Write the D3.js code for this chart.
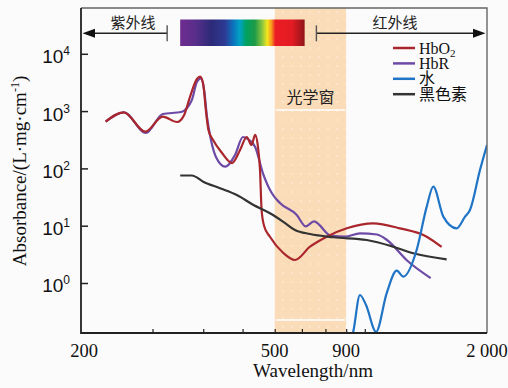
<!DOCTYPE html>
<html>
<head>
<meta charset="utf-8">
<script src="https://cdn.jsdelivr.net/npm/d3@7"></script>
<style>
  body { margin: 0; background: #fbfbfb; }
  svg { display: block; font-family: "Liberation Serif", "Times New Roman", "Noto Sans CJK SC", serif; }
</style>
</head>
<body>
<div id="chart-area"></div>
<script>
// wavelength (nm) / absorbance
var hbo2Wavelength = [230, 255, 288, 318, 345, 359, 371, 386, 393, 400, 406, 412, 423, 445, 471, 493, 512, 526, 537, 546, 552, 557, 565, 584, 630, 673, 733, 806, 903, 1049, 1221, 1421, 1546];
var hbo2Absorbance = [653, 953, 437, 798, 645, 855, 1762, 3631, 3985, 2972, 1045, 468, 313, 186, 124, 209, 353, 256, 383, 227, 94, 18.8, 9.9, 6.4, 3.34, 2.52, 4.3, 6.43, 9.0, 11.0, 9.0, 6.43, 4.25];

var hbrWavelength = [230, 255, 289, 318, 353, 375, 386, 395, 402, 409, 418, 430, 453, 479, 501, 519, 537, 561, 590, 618, 680, 715, 750, 824, 894, 973, 1072, 1134, 1273, 1453];
var hbrAbsorbance = [653, 953, 415, 890, 965, 1563, 3221, 3706, 2335, 758, 313, 158, 107, 171, 353, 313, 236, 83, 37.2, 24.9, 15.4, 9.76, 11.9, 6.69, 6.43, 7.37, 7.02, 5.63, 2.45, 1.22];

var waterWavelength = [922, 935, 973, 1007, 1066, 1132, 1199, 1244, 1342, 1421, 1475, 1561, 1683, 1766, 1816, 1922, 2000];
var waterAbsorbance = [0.10, 0.134, 0.618, 0.413, 0.141, 0.661, 1.64, 1.29, 3.77, 21.5, 47.9, 14.4, 9.0, 14.4, 18.8, 93.8, 256];

var melaninWavelength = [351, 375, 400, 440, 484, 532, 584, 630, 673, 733, 837, 1011, 1175, 1317, 1591];
var melaninAbsorbance = [75.2, 75.2, 58.6, 45, 34.3, 23.0, 16.5, 11.7, 8.41, 7.16, 6.28, 5.63, 4.30, 3.30, 2.59];

var seriesNames = ["HbO2", "HbR", "水", "黑色素"];
var seriesColors = ["#a9262c", "#6c4aa5", "#1f74c6", "#333333"];

var yTickValues = [1, 10, 100, 1000, 10000];
var xMinorTicks = [300, 400, 500, 600, 700, 800, 900, 1000];
var xLabelValues = [200, 600, 900, 2000];
var xLabelTexts = ["200", "500", "900", "2 000"];

var windowRange = [600, 900];
var uvEnd = 326, irStart = 760, spectrumRange = [351, 711];

var margin = {top: 8, right: 21, bottom: 55, left: 81},
    width = 508 - margin.left - margin.right,
    height = 388 - margin.top - margin.bottom;

var svg = d3.select("#chart-area").append("svg")
    .attr("width", 508)
    .attr("height", 388);

var defs = svg.append("defs");
defs.append("clipPath").attr("id", "plot-clip")
    .append("rect").attr("width", width).attr("height", height);
var pat = defs.append("pattern").attr("id", "dots")
    .attr("width", 9).attr("height", 9).attr("patternUnits", "userSpaceOnUse");
pat.append("rect").attr("width", 9).attr("height", 9).attr("fill", "#fbdcb9");
pat.append("circle").attr("cx", 4).attr("cy", 4).attr("r", 0.8).attr("fill", "#fff").attr("opacity", 0.6);

var grad = defs.append("linearGradient").attr("id", "spectrum");
[[0, "#6e2c8f"], [0.12, "#5a2e8c"], [0.25, "#2c2a78"], [0.36, "#2d3a94"], [0.43, "#0a76bf"],
 [0.48, "#00a3c4"], [0.53, "#00a161"], [0.6, "#1e9a47"], [0.66, "#8dc63f"], [0.7, "#f3e61c"],
 [0.735, "#f7941d"], [0.765, "#ec1c24"], [0.9, "#e31b23"], [1, "#8e1518"]]
    .forEach(function (s) {
        grad.append("stop").attr("offset", s[0]).attr("stop-color", s[1]);
    });

var g = svg.append("g")
    .attr("transform", "translate(" + margin.left + "," + margin.top + ")");

var x = d3.scaleLog().domain([200, 2000]).range([0, width]);
var y = d3.scaleLog().domain([0.1341, 62950]).range([height, 0]);

// optical window band
g.append("rect")
    .attr("x", x(windowRange[0]))
    .attr("y", 0)
    .attr("width", x(windowRange[1]) - x(windowRange[0]))
    .attr("height", height)
    .attr("fill", "url(#dots)");
[102, 312].forEach(function (yy) {
    g.append("line")
        .attr("x1", x(windowRange[0]) + 1).attr("x2", x(windowRange[1]) - 1)
        .attr("y1", yy).attr("y2", yy)
        .attr("stroke", "#fff").attr("stroke-width", 1.5);
});
g.append("text")
    .attr("x", (x(windowRange[0]) + x(windowRange[1])) / 2)
    .attr("y", 95)
    .attr("text-anchor", "middle")
    .attr("font-size", 16)
    .attr("fill", "#222")
    .text("光学窗");

// spectrum bar and UV / IR arrows
g.append("rect")
    .attr("x", x(spectrumRange[0]))
    .attr("y", 11.5)
    .attr("width", x(spectrumRange[1]) - x(spectrumRange[0]))
    .attr("height", 26.5)
    .attr("fill", "url(#spectrum)");

var arrowY = 25.3;
g.append("line").attr("x1", 8).attr("x2", x(uvEnd)).attr("y1", arrowY).attr("y2", arrowY)
    .attr("stroke", "#222").attr("stroke-width", 1.4);
g.append("path").attr("d", "M1.5," + arrowY + "L14," + (arrowY - 4.5) + "L14," + (arrowY + 4.5) + "Z").attr("fill", "#111");
g.append("line").attr("x1", x(uvEnd)).attr("x2", x(uvEnd)).attr("y1", arrowY - 8).attr("y2", arrowY + 8)
    .attr("stroke", "#555").attr("stroke-width", 1.4);
g.append("line").attr("x1", x(irStart)).attr("x2", width - 8).attr("y1", arrowY).attr("y2", arrowY)
    .attr("stroke", "#222").attr("stroke-width", 1.4);
g.append("path").attr("d", "M" + (width - 1.5) + "," + arrowY + "L" + (width - 14) + "," + (arrowY - 4.5) + "L" + (width - 14) + "," + (arrowY + 4.5) + "Z").attr("fill", "#111");
g.append("line").attr("x1", x(irStart)).attr("x2", x(irStart)).attr("y1", arrowY - 8).attr("y2", arrowY + 8)
    .attr("stroke", "#555").attr("stroke-width", 1.4);
g.append("text").attr("x", 52).attr("y", 19.5).attr("text-anchor", "middle")
    .attr("font-size", 15).attr("fill", "#222").text("紫外线");
g.append("text").attr("x", 314).attr("y", 20).attr("text-anchor", "middle")
    .attr("font-size", 15).attr("fill", "#222").text("红外线");

// curves
var line = d3.line()
    .x(function (d) { return x(d[0]); })
    .y(function (d) { return y(d[1]); })
    .curve(d3.curveMonotoneX);
var series = [
    d3.zip(hbo2Wavelength, hbo2Absorbance),
    d3.zip(hbrWavelength, hbrAbsorbance),
    d3.zip(waterWavelength, waterAbsorbance),
    d3.zip(melaninWavelength, melaninAbsorbance)
];
var drawOrder = [1, 0, 3, 2];
var curves = g.append("g").attr("clip-path", "url(#plot-clip)");
drawOrder.forEach(function (i) {
    curves.append("path")
        .datum(series[i])
        .attr("d", line)
        .attr("fill", "none")
        .attr("stroke", seriesColors[i])
        .attr("stroke-width", 2.2)
        .attr("stroke-linejoin", "round");
});

// axes
var yAxis = g.append("g")
    .call(d3.axisLeft(y).tickValues(yTickValues).tickSize(-7).tickSizeOuter(0).tickFormat(""));
yAxis.selectAll(".tick line").attr("stroke", "#222").attr("stroke-width", 1.5);
yAxis.selectAll(".tick").append("text")
    .attr("x", -11)
    .attr("y", 9)
    .attr("text-anchor", "end")
    .attr("fill", "#111")
    .attr("font-size", 19)
    .each(function (d) {
        var t = d3.select(this);
        t.append("tspan").text("10");
        t.append("tspan").attr("dy", -8).attr("font-size", 12).text(Math.round(Math.log10(d)));
    });

var xAxis = g.append("g")
    .attr("transform", "translate(0," + height + ")")
    .call(d3.axisBottom(x).tickValues(xMinorTicks).tickSize(-4).tickSizeOuter(0).tickFormat(""));
xAxis.selectAll(".tick line").attr("stroke", "#222").attr("stroke-width", 1.2);
xLabelValues.forEach(function (v, i) {
    g.append("text")
        .attr("x", x(v) + (i === 0 ? 3 : 0))
        .attr("y", height + 24)
        .attr("text-anchor", "middle")
        .attr("font-size", 18.5)
        .attr("fill", "#111")
        .text(xLabelTexts[i]);
});
svg.selectAll(".domain").remove();

// frame
g.append("path")
    .attr("d", "M0,0H" + width + "V" + height)
    .attr("fill", "none").attr("stroke", "#666").attr("stroke-width", 1.4);
g.append("path")
    .attr("d", "M0,0V" + height + "H" + width)
    .attr("fill", "none").attr("stroke", "#222").attr("stroke-width", 1.8);

// legend
var legend = g.append("g").attr("transform", "translate(312,40)");
seriesNames.forEach(function (name, i) {
    var row = legend.append("g").attr("transform", "translate(0," + (i * 15.4) + ")");
    row.append("line").attr("x1", 0).attr("x2", 22).attr("y1", 0).attr("y2", 0)
        .attr("stroke", seriesColors[i]).attr("stroke-width", 2.5);
    var t = row.append("text").attr("x", 26).attr("y", 5.5)
        .attr("font-size", 16).attr("fill", "#111");
    if (name === "HbO2") {
        t.append("tspan").text("HbO");
        t.append("tspan").attr("dy", 3).attr("font-size", 11).text("2");
    } else {
        t.text(name);
    }
});

// axis titles
g.append("text")
    .attr("x", 232)
    .attr("y", height + 44)
    .attr("text-anchor", "middle")
    .attr("font-size", 19)
    .attr("fill", "#111")
    .text("Wavelength/nm");
var yt = svg.append("text")
    .attr("transform", "translate(26,171) rotate(-90)")
    .attr("text-anchor", "middle")
    .attr("font-size", 19)
    .attr("fill", "#111");
yt.append("tspan").text("Absorbance/(L·mg·cm");
yt.append("tspan").attr("dy", -7).attr("font-size", 12).text("-1");
yt.append("tspan").attr("dy", 7).text(")");
</script>
</body>
</html>
